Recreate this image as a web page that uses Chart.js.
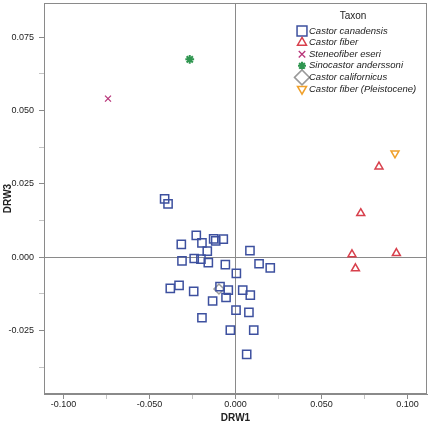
<!DOCTYPE html>
<html>
<head>
<meta charset="utf-8">
<script src="https://cdn.jsdelivr.net/npm/chart.js@4.4.1/dist/chart.umd.min.js"></script>
<style>
  html, body { margin: 0; padding: 0; background: #fff; }
  canvas { display: block; }
</style>
</head>
<body>
<canvas id="grafico" width="431" height="424"></canvas>
<script>
// taxones (orden de la leyenda)
const taxones = ['Castor canadensis', 'Castor fiber', 'Steneofiber eseri', 'Sinocastor anderssoni', 'Castor californicus', 'Castor fiber (Pleistocene)']

// DRW1 / DRW3
const canadensisX = [-0.0412, -0.0392, -0.0228, -0.0315, -0.0195, -0.0127, -0.0115, -0.0071, -0.0164, 0.0084, -0.0311, -0.0240, -0.0201, -0.0158, -0.0059, 0.0137, 0.0202, 0.0005, -0.0379, -0.0328, -0.0243, -0.0090, -0.0042, 0.0042, 0.0086, -0.0055, -0.0133, 0.0003, 0.0078, -0.0195, -0.0030, 0.0106, 0.0065]
const canadensisY = [0.0199, 0.0182, 0.0075, 0.0044, 0.0049, 0.0063, 0.0056, 0.0062, 0.0021, 0.0023, -0.0012, -0.0004, -0.0006, -0.0018, -0.0025, -0.0022, -0.0036, -0.0055, -0.0106, -0.0096, -0.0116, -0.0100, -0.0112, -0.0112, -0.0129, -0.0137, -0.0149, -0.0180, -0.0188, -0.0206, -0.0248, -0.0248, -0.0331]
const fiberX = [0.0834, 0.0728, 0.0677, 0.0935, 0.0697]
const fiberY = [0.0309, 0.0150, 0.0010, 0.0014, -0.0038]
const steneofiberX = [-0.0741]
const steneofiberY = [0.0541]
const sinocastorX = [-0.0266]
const sinocastorY = [0.0675]
const californicusX = [-0.0096]
const californicusY = [-0.0108]
const pleistoceneX = [0.0927]
const pleistoceneY = [0.0355]

const fuente = 'Arial, "Liberation Sans", sans-serif'
const gris = '#8a8a8a'

function puntos (xs, ys) {
  return xs.map((x, i) => ({ x: x, y: ys[i] }))
}

const estilos = [
  { color: '#3d509f', pointStyle: 'rect', radius: 5.8, rotation: 0, width: 1.5, leyendaRadio: 7 },
  { color: '#d8404c', pointStyle: 'triangle', radius: 4.6, rotation: 0, width: 1.5, leyendaRadio: 5.2 },
  { color: '#b8367a', pointStyle: 'crossRot', radius: 4.2, rotation: 0, width: 1.3, leyendaRadio: 4.6 },
  { color: '#2f9650', pointStyle: 'star', radius: 4.4, rotation: 0, width: 2, leyendaRadio: 4 },
  { color: '#9a9a9a', pointStyle: 'rectRot', radius: 5, rotation: 0, width: 1.5, leyendaRadio: 7.5 },
  { color: '#f0a02a', pointStyle: 'triangle', radius: 4.6, rotation: 180, width: 1.5, leyendaRadio: 5.2 }
]

const series = [
  puntos(canadensisX, canadensisY),
  puntos(fiberX, fiberY),
  puntos(steneofiberX, steneofiberY),
  puntos(sinocastorX, sinocastorY),
  puntos(californicusX, californicusY),
  puntos(pleistoceneX, pleistoceneY)
]

const datasets = series.map((datos, i) => ({
  label: taxones[i],
  data: datos,
  pointStyle: estilos[i].pointStyle,
  pointRadius: estilos[i].radius,
  pointHoverRadius: estilos[i].radius,
  pointRotation: estilos[i].rotation,
  pointBorderWidth: estilos[i].width,
  pointBorderColor: estilos[i].color,
  pointBackgroundColor: 'rgba(0,0,0,0)'
}))

function esMayor (v, paso) {
  return Math.abs(v / paso - Math.round(v / paso)) < 1e-6
}

function etiqueta (v) {
  return (Math.round(v * 1000) / 1000 + 0).toFixed(3)
}

// marco completo del área del gráfico
const marco = {
  id: 'marco',
  beforeDatasetsDraw (chart) {
    const { ctx, chartArea: a } = chart
    ctx.save()
    ctx.strokeStyle = gris
    ctx.lineWidth = 1
    ctx.strokeRect(a.left + 0.5, a.top + 0.5, a.right - a.left - 1, a.bottom - a.top - 1)
    ctx.restore()
  }
}

// leyenda dentro del área, arriba a la derecha
const leyenda = {
  id: 'leyenda',
  afterDraw (chart) {
    const { ctx, chartArea: a } = chart
    ctx.save()
    ctx.fillStyle = '#222'
    ctx.font = '10px ' + fuente
    ctx.textAlign = 'center'
    ctx.textBaseline = 'middle'
    ctx.fillText('Taxon', a.right - 74, 16)
    taxones.forEach((nombre, i) => {
      const y = 31 + i * 11.6
      const e = estilos[i]
      ctx.strokeStyle = e.color
      ctx.fillStyle = 'rgba(0,0,0,0)'
      ctx.lineWidth = e.width
      Chart.helpers.drawPoint(ctx, { pointStyle: e.pointStyle, radius: e.leyendaRadio, rotation: e.rotation, borderWidth: e.width }, a.right - 125, y)
      ctx.fillStyle = '#222'
      ctx.font = 'italic 9.5px ' + fuente
      ctx.textAlign = 'left'
      ctx.fillText(nombre, a.right - 118, y)
    })
    ctx.restore()
  }
}

const ctx = document.getElementById('grafico').getContext('2d')
const grafico = new Chart(ctx, {
  type: 'scatter',
  data: { datasets: datasets },
  plugins: [marco, leyenda],
  options: {
    responsive: false,
    animation: false,
    events: [],
    layout: { autoPadding: false, padding: { top: 3, right: 4, left: 0, bottom: 0 } },
    plugins: {
      legend: { display: false },
      tooltip: { enabled: false }
    },
    scales: {
      x: {
        type: 'linear',
        min: -0.1113,
        max: 0.1113,
        afterFit: (scale) => {
          scale.height = 30
          scale.paddingLeft = 0
          scale.paddingRight = 0
        },
        border: { display: true, color: gris },
        grid: {
          color: (c) => (c.tick && Math.abs(c.tick.value) < 1e-9) ? gris : 'rgba(0,0,0,0)',
          tickColor: (c) => (c.tick && esMayor(c.tick.value, 0.05)) ? gris : '#c4c4c4',
          tickLength: 5
        },
        ticks: {
          stepSize: 0.025,
          includeBounds: false,
          autoSkip: false,
          maxRotation: 0,
          padding: 0,
          color: '#222',
          font: { family: fuente, size: 9 },
          callback: (v) => esMayor(v, 0.05) ? etiqueta(v) : ''
        },
        title: {
          display: true,
          text: 'DRW1',
          color: '#222',
          font: { family: fuente, size: 10, weight: 'bold' },
          padding: { top: 0, bottom: 0 }
        }
      },
      y: {
        type: 'linear',
        min: -0.0466,
        max: 0.0867,
        afterFit: (scale) => {
          scale.width = 44
          scale.paddingTop = 0
          scale.paddingBottom = 0
        },
        border: { display: true, color: gris },
        grid: {
          color: (c) => (c.tick && Math.abs(c.tick.value) < 1e-9) ? gris : 'rgba(0,0,0,0)',
          tickColor: (c) => (c.tick && esMayor(c.tick.value, 0.025)) ? gris : '#c4c4c4',
          tickLength: 5
        },
        ticks: {
          stepSize: 0.0125,
          includeBounds: false,
          autoSkip: false,
          padding: 5,
          color: '#222',
          font: { family: fuente, size: 9 },
          callback: (v) => esMayor(v, 0.025) ? etiqueta(v) : ''
        },
        title: {
          display: true,
          text: 'DRW3',
          color: '#222',
          font: { family: fuente, size: 10, weight: 'bold' },
          padding: { top: 2, bottom: 0 }
        }
      }
    }
  }
})
</script>
</body>
</html>
